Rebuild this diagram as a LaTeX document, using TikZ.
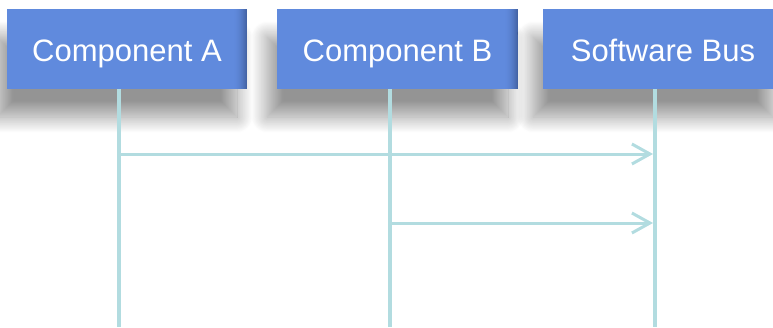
\documentclass[tikz,border=0pt]{standalone}
\usepackage{fontspec}
\setmainfont{Liberation Sans}
\usetikzlibrary{arrows.meta,shadows.blur}
\definecolor{boxblue}{RGB}{96,138,221}
\definecolor{boxdark}{RGB}{68,100,165}
\definecolor{life}{RGB}{178,220,224}
\tikzset{
  comp/.style={fill=boxblue, minimum width=240pt, minimum height=80pt, inner sep=0pt,
    text=white, font=\fontsize{31}{36}\selectfont, text height=26pt, text depth=2pt,
    blur shadow={shadow xshift=-10pt, shadow yshift=-28pt, shadow blur radius=16pt,
      shadow opacity=42, shadow blur steps=24}},
  edgeshade/.style={path picture={
      \foreach \k in {0,...,14}{
        \pgfmathsetmacro{\mix}{100-(\k*\k)/196*100}
        \fill[boxblue!\mix!boxdark]
          ([xshift=-15pt+\k*1pt]path picture bounding box.north east) rectangle
          ([xshift=-14pt+\k*1pt]path picture bounding box.south east);}}},
  lifeline/.style={draw=life, line width=4.5pt},
  msg/.style={draw=life, line width=3pt, -{Straight Barb[length=18pt, width=20pt, line width=3pt]}}
}
\begin{document}
\begin{tikzpicture}[x=1pt,y=-1pt]
\useasboundingbox (0,0) rectangle (773,327);
\node[comp, edgeshade] (A) at (127,49) {Component A};
\node[comp, edgeshade, minimum width=241pt] (B) at (397.5,49) {Component B};
\node[comp] (S) at (663,49) {Software Bus};
\coordinate (Aend) at (119,327);
\coordinate (Bend) at (390,327);
\coordinate (Send) at (655,327);
\coordinate (A1) at (119,154);
\coordinate (S1) at (653,154);
\coordinate (B2) at (390,223);
\coordinate (S2) at (653,223);
\draw[lifeline] (A.south -| Aend) -- (Aend);
\draw[lifeline] (B.south -| Bend) -- (Bend);
\draw[lifeline] (S.south -| Send) -- (Send);
\draw[msg] (A1) -- (S1);
\draw[msg] (B2) -- (S2);
\end{tikzpicture}
\end{document}
